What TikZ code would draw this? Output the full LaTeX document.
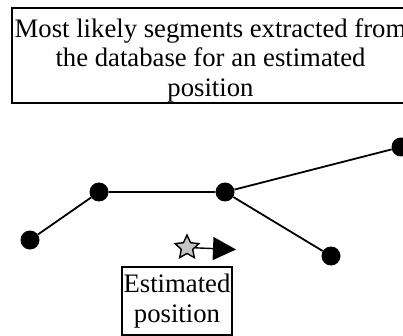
\documentclass[tikz,border=0pt]{standalone}
\usepackage{fontspec}
\setmainfont{Liberation Serif}
\usetikzlibrary{shapes.geometric,arrows.meta}
\begin{document}
\begin{tikzpicture}[x=1pt,y=-1pt,
  dot/.style={circle,fill=black,inner sep=0pt,minimum size=19pt},
  seg/.style={line width=1.8pt},
  frame/.style={draw,line width=1.3pt,inner sep=0pt},
  lbl/.style={font=\fontsize{26.7}{29.5}\selectfont,align=center,inner sep=0pt}]
\useasboundingbox (0,0) rectangle (403,336);
\clip (0,0) rectangle (403,336);

% caption box at the top (runs past the right border)
\node[frame,minimum width=397pt,minimum height=95pt] (titlebox) at (210.5,55.5) {};
\node[lbl] (title) at (210.5,60)
  {Most likely segments extracted from\\the database for an estimated\\position};

% road network: junctions and segments
\node[dot] (a) at (30,240) {};
\node[dot] (b) at (99,192) {};
\node[dot] (c) at (225,192) {};
\node[dot] (d) at (331,256) {};
\node[dot] (e) at (401,147) {};
\draw[seg] (a) -- (b) -- (c) -- (d);
\draw[seg] (c) -- (e);

% estimated position with heading
\node[star,star points=5,star point ratio=2.1,draw,fill=gray!45,line width=1.4pt,
      minimum size=25pt,inner sep=0pt] (pos) at (187,247.5) {};
\coordinate (head) at (236,249.5);
\draw[line width=1.4pt,-{Triangle[length=23pt,width=23pt]}] (pos) -- (head);

% label box
\node[frame,lbl,minimum width=110pt,minimum height=68pt] (poslabel) at (177,301)
  {Estimated\\position};
\end{tikzpicture}
\end{document}
